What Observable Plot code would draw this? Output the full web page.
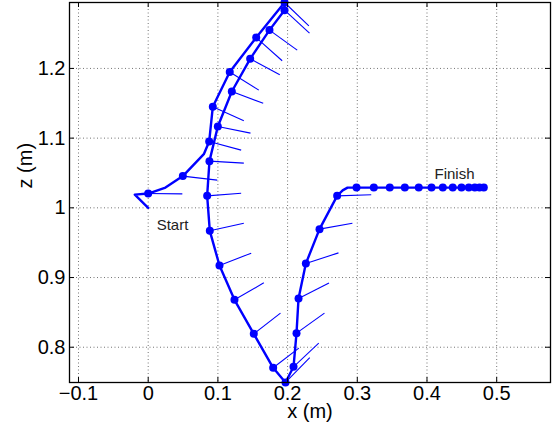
<!DOCTYPE html>
<html>
<head>
<meta charset="utf-8">
<script src="https://cdn.jsdelivr.net/npm/d3@7"></script>
<script src="https://cdn.jsdelivr.net/npm/@observablehq/plot@0.6"></script>
<style>
  html, body { margin: 0; padding: 0; background: white; }
</style>
</head>
<body>
<div id="chart"></div>
<script>
// Tick labels
const xTicks = [-0.1, 0, 0.1, 0.2, 0.3, 0.4, 0.5];
const zTicks = [0.8, 0.9, 1, 1.1, 1.2];

// Trajectory (thick line) vertices
const pathX = [0.0, -0.0192, 0.0, 0.0248, 0.0497, 0.0798, 0.0875, 0.0927, 0.117, 0.155, 0.1956, 0.1956,
  0.174, 0.1463, 0.12, 0.0999, 0.0879, 0.0846, 0.0884, 0.1023, 0.1238, 0.1515, 0.1793, 0.197,
  0.2085, 0.2128, 0.2157, 0.2262, 0.2458, 0.2711, 0.279, 0.286,
  0.2989, 0.3237, 0.3466, 0.3682, 0.3882, 0.4065, 0.4227, 0.4370, 0.4495, 0.4600, 0.4686, 0.4753, 0.4815];
const pathZ = [1.0, 1.019, 1.0205, 1.029, 1.0455, 1.077, 1.0951, 1.1449, 1.195, 1.2443, 1.2946, 1.2836,
  1.255, 1.2138, 1.1669, 1.1167, 1.067, 1.0172, 0.967, 0.9172, 0.868, 0.8192, 0.7705, 0.7495,
  0.7719, 0.8202, 0.870, 0.920, 0.9694, 1.0172, 1.025, 1.029,
  1.029, 1.029, 1.029, 1.029, 1.029, 1.029, 1.029, 1.029, 1.029, 1.029, 1.029, 1.029, 1.029];

// Sampled positions (dots)
const dotX = [0.0, 0.0497, 0.0875, 0.0927, 0.117, 0.155, 0.1956, 0.1956, 0.174, 0.1463, 0.12, 0.0999,
  0.0879, 0.0846, 0.0884, 0.1023, 0.1238, 0.1515, 0.1793, 0.197, 0.2085, 0.2128, 0.2157, 0.2262,
  0.2458, 0.2711,
  0.2989, 0.3237, 0.3466, 0.3682, 0.3882, 0.4065, 0.4227, 0.4370, 0.4495, 0.4600, 0.4686, 0.4753, 0.4815];
const dotZ = [1.0205, 1.0455, 1.0951, 1.1449, 1.195, 1.2443, 1.2946, 1.2836, 1.255, 1.2138, 1.1669, 1.1167,
  1.067, 1.0172, 0.967, 0.9172, 0.868, 0.8192, 0.7705, 0.7495, 0.7719, 0.8202, 0.870, 0.920,
  0.9694, 1.0172,
  1.029, 1.029, 1.029, 1.029, 1.029, 1.029, 1.029, 1.029, 1.029, 1.029, 1.029, 1.029, 1.029];

// Orientation segment tips (thin lines from each dot)
const tipX = [0.049, 0.099, 0.1334, 0.1372, 0.1587, 0.1922, 0.2305, 0.2314, 0.2138, 0.1888, 0.165, 0.1468,
  0.1372, 0.1334, 0.1372, 0.1478, 0.1659, 0.1898, 0.2161, 0.2318, 0.2447, 0.2529, 0.2594, 0.273,
  0.293, 0.32,
  null, null, null, null, null, null, null, null, null, null, null, null, null];
const tipZ = [1.020, 1.0397, 1.0828, 1.1248, 1.1689, 1.211, 1.2611, 1.2506, 1.2262, 1.1908, 1.150, 1.1072,
  1.0641, 1.021, 0.978, 0.935, 0.8924, 0.849, 0.7987, 0.7852, 0.8058, 0.849, 0.892, 0.9354,
  0.978, 1.0187,
  null, null, null, null, null, null, null, null, null, null, null, null, null];

// Annotations
const notes = ["Start", "Finish"];
const noteX = [0.0349, 0.4395];
const noteZ = [0.9749, 1.0488];

const xLabel = "x (m)";
const zLabel = "z (m)";

// Build tables
const path = pathX.map((x, i) => ({x, z: pathZ[i]}));
const dots = dotX.map((x, i) => ({x, z: dotZ[i]}));
const segs = dotX.map((x, i) => ({x1: x, z1: dotZ[i], x2: tipX[i], z2: tipZ[i]})).filter(d => d.x2 != null);
const noteData = notes.map((t, i) => ({t, x: noteX[i], z: noteZ[i]}));

const W = 559, H = 438;
const mT = 2, mL = 69, mR = 9, mB = 56;
const xDom = [-0.1129, 0.5772];
const zDom = [0.7494, 1.2946];
const kx = (xDom[1] - xDom[0]) / (W - mL - mR);
const kz = (zDom[1] - zDom[0]) / (H - mT - mB);
const tl = 5;
const blue = "#0000ff";
const fmt = d3.format("~g");
const gridStyle = {stroke: "#000", strokeOpacity: 0.55, strokeDasharray: "1,2.5", strokeWidth: 1};

const chart = Plot.plot({
  width: W, height: H,
  marginTop: mT, marginLeft: mL, marginRight: mR, marginBottom: mB,
  x: {domain: xDom, label: null},
  y: {domain: zDom, label: null},
  style: {fontFamily: "'Liberation Sans', Arial, Helvetica, sans-serif", fontSize: "20px", color: "black", background: "white"},
  marks: [
    Plot.ruleX(xTicks, gridStyle),
    Plot.ruleY(zTicks, gridStyle),
    Plot.link(segs, {x1: "x1", y1: "z1", x2: "x2", y2: "z2", stroke: blue, strokeWidth: 1.1}),
    Plot.line(path, {x: "x", y: "z", stroke: blue, strokeWidth: 2.4, strokeLinejoin: "round"}),
    Plot.dot(dots, {x: "x", y: "z", r: 4, fill: blue, stroke: null}),
    Plot.text(noteData, {x: "x", y: "z", text: "t", fontSize: 15, fill: "#222"}),
    Plot.frame({stroke: "black", strokeWidth: 1.3}),
    // inward ticks
    Plot.ruleX(xTicks, {y1: zDom[0], y2: zDom[0] + tl * kz, stroke: "black", strokeWidth: 1}),
    Plot.ruleX(xTicks, {y1: zDom[1], y2: zDom[1] - tl * kz, stroke: "black", strokeWidth: 1}),
    Plot.ruleY(zTicks, {x1: xDom[0], x2: xDom[0] + tl * kx, stroke: "black", strokeWidth: 1}),
    Plot.ruleY(zTicks, {x1: xDom[1], x2: xDom[1] - tl * kx, stroke: "black", strokeWidth: 1}),
    Plot.axisX({ticks: xTicks, tickSize: 0, tickPadding: 3, fontSize: 20, label: null, tickFormat: fmt}),
    Plot.axisY({ticks: zTicks, tickSize: 0, tickPadding: 4, fontSize: 20, label: null, tickFormat: fmt}),
    Plot.text([xLabel], {frameAnchor: "bottom", dy: 21, fontSize: 20, lineAnchor: "top"}),
    Plot.text([zLabel], {frameAnchor: "left", dx: -44, dy: -4, rotate: -90, fontSize: 20})
  ]
});
document.getElementById("chart").appendChild(chart);
</script>
</body>
</html>
